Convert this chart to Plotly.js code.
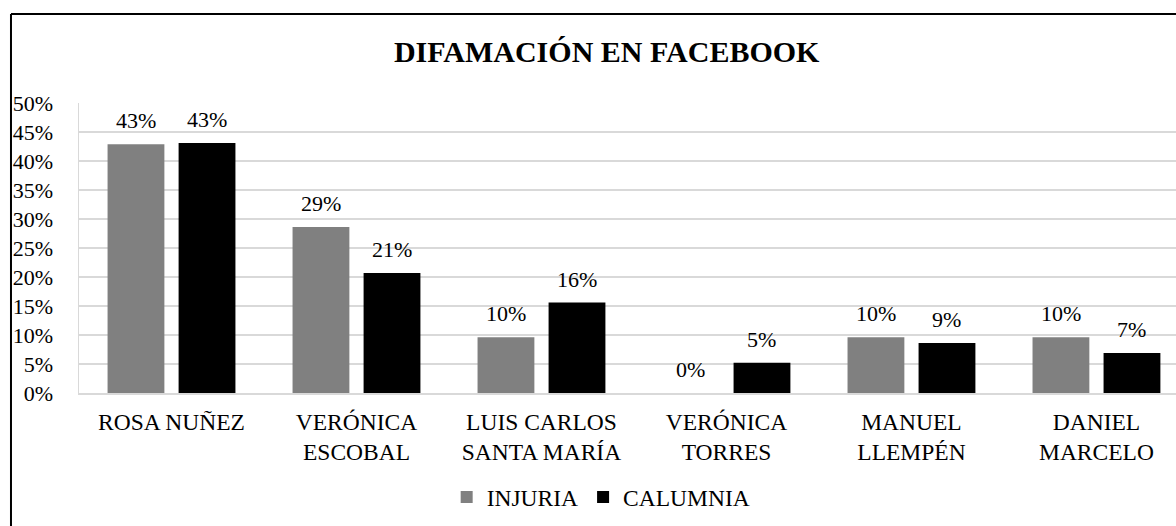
<!DOCTYPE html>
<html>
<head>
<meta charset="utf-8">
<script src="https://cdn.plot.ly/plotly-3.0.1.min.js"></script>
<style>
  html, body { margin: 0; padding: 0; background: #fff; }
  #chart { width: 1176px; height: 526px; }
</style>
</head>
<body>
<div id="chart"></div>
<script>
// ---- data ----
const categories = ['ROSA NUÑEZ', 'VERÓNICA<br>ESCOBAL', 'LUIS CARLOS<br>SANTA MARÍA', 'VERÓNICA<br>TORRES', 'MANUEL<br>LLEMPÉN', 'DANIEL<br>MARCELO'];
const injuria = [0.429, 0.286, 0.096, 0, 0.096, 0.096];
const calumnia = [0.431, 0.207, 0.156, 0.052, 0.086, 0.069];
const seriesNames = ['INJURIA', 'CALUMNIA'];
const titleText = 'DIFAMACIÓN EN FACEBOOK';

const FONT = 'Liberation Serif, Times New Roman, serif';
const fmt = v => Math.round(v * 100) + '%';

const traces = [
  { type: 'bar', name: seriesNames[0], x: categories, y: injuria,
    marker: { color: '#808080' }, hoverinfo: 'skip' },
  { type: 'bar', name: seriesNames[1], x: categories, y: calumnia,
    marker: { color: '#000000' }, hoverinfo: 'skip' }
];

const annotations = [];
[injuria, calumnia].forEach((arr, si) => {
  arr.forEach((v, i) => {
    annotations.push({
      xref: 'x', yref: 'y', x: categories[i], y: v,
      xshift: si === 0 ? -35.5 : 35.5, yshift: 9,
      yanchor: 'bottom', xanchor: 'center', showarrow: false,
      text: fmt(v), font: { family: FONT, size: 22, color: '#000' }
    });
  });
});

const layout = {
  width: 1176, height: 526,
  paper_bgcolor: '#fff', plot_bgcolor: '#fff',
  margin: { l: 79, r: 0, t: 103, b: 133 },
  font: { family: FONT, size: 22, color: '#000' },
  title: { text: '<b>' + titleText + '</b>', font: { family: FONT, size: 30, color: '#000' },
           x: 0.481, xref: 'paper', xanchor: 'center', y: 0.903, yref: 'container', yanchor: 'middle' },
  barmode: 'group', bargap: 0.232, bargroupgap: 0.2,
  xaxis: {
    type: 'category', range: [-0.5, 5.43], fixedrange: true,
    showgrid: false, showline: true, linecolor: '#d9d9d9', linewidth: 1.5,
    ticks: 'outside', ticklen: 7, tickcolor: 'rgba(0,0,0,0)',
    tickfont: { family: FONT, size: 23.5, color: '#000' }
  },
  yaxis: {
    range: [0, 0.5], dtick: 0.05, tickformat: '.0%', fixedrange: true,
    showgrid: true, gridcolor: '#d9d9d9', gridwidth: 1.5,
    showline: true, linecolor: '#d9d9d9', linewidth: 1.5,
    zeroline: false,
    ticks: 'outside', ticklen: 20, tickcolor: 'rgba(0,0,0,0)',
    tickfont: { family: FONT, size: 22, color: '#000' }
  },
  showlegend: true,
  legend: {
    orientation: 'h', x: 0.476, xanchor: 'center', y: -0.359, yanchor: 'middle',
    font: { family: FONT, size: 23.5, color: '#000' }, traceorder: 'normal',
    itemwidth: 30
  },
  annotations: annotations,
  shapes: [
    { type: 'line', xref: 'paper', yref: 'paper', x0: -0.062, x1: -0.062, y0: -0.5, y1: 1.307,
      line: { color: '#000', width: 2 } },
    { type: 'line', xref: 'paper', yref: 'paper', x0: -0.062, x1: 1.05, y0: 1.307, y1: 1.307,
      line: { color: '#000', width: 2 } }
  ]
};

Plotly.newPlot('chart', traces, layout, { displayModeBar: false, staticPlot: true });
</script>
</body>
</html>
